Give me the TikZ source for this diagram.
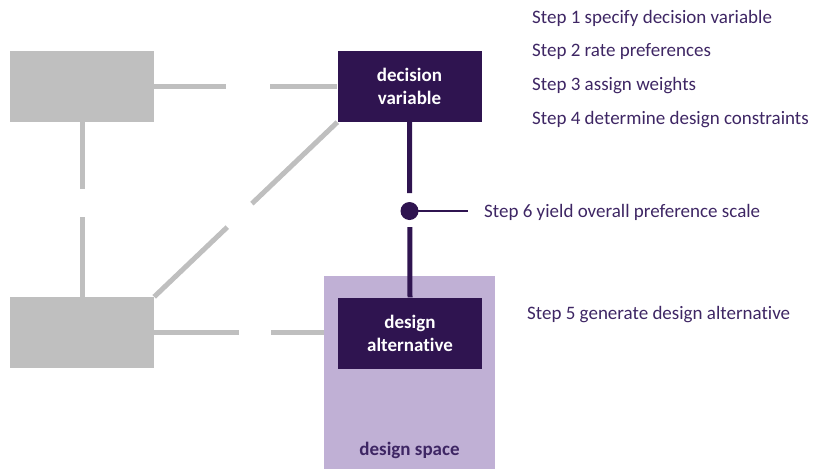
\documentclass[tikz,border=0pt]{standalone}
\usepackage{fontspec}
\setmainfont{Carlito}[Ligatures=NoCommon]
\definecolor{dpurple}{RGB}{47,20,80}
\definecolor{tpurple}{RGB}{62,38,100}
\definecolor{lpurple}{RGB}{192,176,213}
\definecolor{lgray}{RGB}{191,191,191}
\begin{document}
\begin{tikzpicture}[x=1pt,y=-1pt,
  graybox/.style={fill=lgray,draw=none,minimum width=144pt,minimum height=71pt,inner sep=0pt},
  darkbox/.style={fill=dpurple,draw=none,minimum width=144pt,minimum height=71pt,inner sep=0pt,
    text=white,font=\fontsize{19}{23}\selectfont\bfseries,align=center},
  grayline/.style={draw=lgray,line width=5pt},
  darkline/.style={draw=dpurple,line width=5pt},
  steptext/.style={anchor=west,text=tpurple,font=\fontsize{19}{23}\selectfont,inner sep=0pt}]
\useasboundingbox (0,0) rectangle (817,469);
% design space
\node[fill=lpurple,draw=none,minimum width=171pt,minimum height=193pt,inner sep=0pt] (ds) at (409.5,372.5) {};
\node[text=tpurple,font=\fontsize{19}{23}\selectfont\bfseries,inner sep=0pt] (dsl) at (409.5,450) {design space};
% boxes
\node[graybox] (g1) at (82,86.5) {};
\node[graybox] (g2) at (82,332.5) {};
\node[darkbox] (dv) at (409.5,86.5) {decision\\variable};
\node[darkbox] (da) at (410,333) {design\\alternative};
% gray connectors
\draw[grayline,dash pattern=on 72pt off 44pt on 200pt] (g1.east) -- (dv.west);
\draw[grayline,dash pattern=on 67pt off 28pt on 200pt] (g1.south) -- (g2.north);
\draw[grayline,dash pattern=on 101pt off 34pt on 200pt] (g2.north east) -- (dv.south west);
\draw[grayline,dash pattern=on 85pt off 32pt on 200pt] (g2.east) -- (ds.west |- g2.east);
% purple connector
\draw[darkline,dash pattern=on 71pt off 34pt on 200pt] (dv.south) -- (da.north);
\node[circle,fill=dpurple,minimum size=18pt,inner sep=0pt] (dot) at (409.5,211) {};
\coordinate (dotend) at (468,211);
\draw[dpurple,line width=2pt] (dot.center) -- (dotend);
% texts
\node[steptext] (s1) at (532,18) {Step 1 specify decision variable};
\node[steptext] (s2) at (532,52) {Step 2 rate preferences};
\node[steptext] (s3) at (532,86) {Step 3 assign weights};
\node[steptext] (s4) at (532,120) {Step 4 determine design constraints};
\node[steptext] (s6) at (484,212) {Step 6 yield overall preference scale};
\node[steptext] (s5) at (527,315) {Step 5 generate design alternative};
\end{tikzpicture}
\end{document}
